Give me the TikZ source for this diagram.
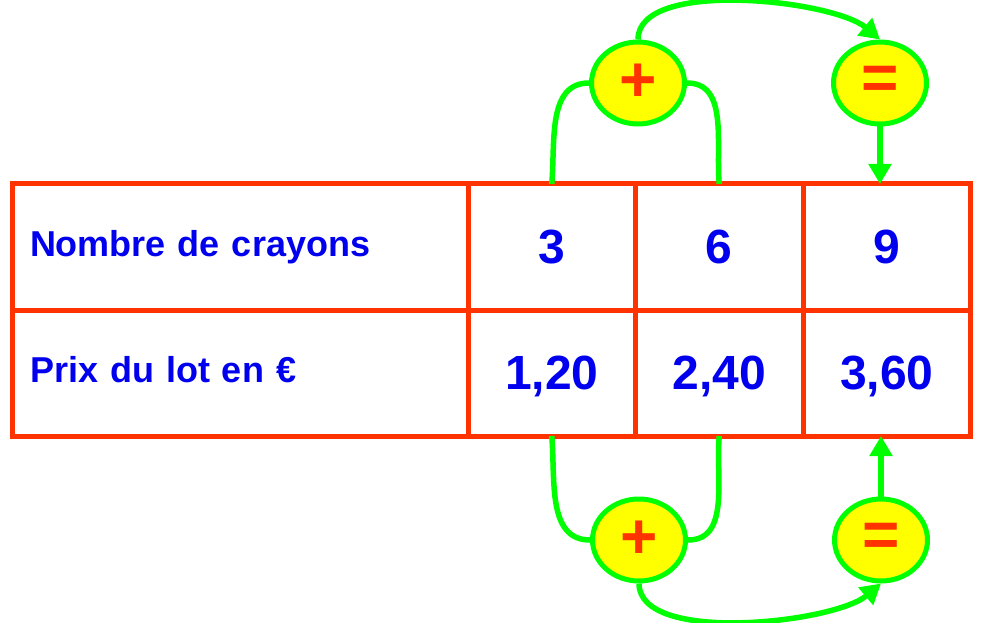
\documentclass[tikz,border=0pt]{standalone}
\usepackage{fontspec}
\setmainfont{Liberation Sans}
\usetikzlibrary{shapes,arrows.meta,positioning}
\definecolor{tabRed}{RGB}{255,51,0}
\definecolor{linkGreen}{RGB}{0,255,0}
\definecolor{opYellow}{RGB}{255,255,0}
\definecolor{txtBlue}{RGB}{0,0,238}
\tikzset{
  tabCell/.style = {rectangle, draw=tabRed, line width=5pt, outer sep=0pt,
    inner sep=0pt, minimum height=126pt, text=txtBlue},
  tabHead/.style = {tabCell, minimum width=456pt, text width=420pt, align=left,
    font=\fontsize{36}{40}\selectfont\bfseries, text height=26pt, text depth=7pt},
  tabNum/.style = {tabCell, minimum width=167.5pt,
    font=\fontsize{48}{52}\selectfont\bfseries, text depth=0pt},
  op_n/.style = {ellipse, draw=linkGreen, line width=5pt, fill=opYellow,
    text=tabRed, minimum width=93pt, minimum height=82pt, inner sep=0pt,
    font=\fontsize{64}{68}\selectfont\bfseries},
    % operation dans une bulle
  link/.style = {draw=linkGreen, line width=5.5pt},
  linkArrow/.style = {link, -{Triangle[length=20pt,width=22pt]}}
}

\begin{document}
\begin{tikzpicture}[x=1pt,y=1pt]
\useasboundingbox (0,0) rectangle (982,622);
% tableau
\node[tabHead] (hNb) at (240,375) {Nombre de crayons};
\node[tabNum, right=0pt of hNb] (n3) {3};
\node[tabNum, right=0pt of n3] (n6) {6};
\node[tabNum, right=0pt of n6] (n9) {9};
\node[tabHead, below=0pt of hNb] (hPx) {Prix du lot en €};
\node[tabNum, right=0pt of hPx] (p120) {1,20};
\node[tabNum, right=0pt of p120] (p240) {2,40};
\node[tabNum, right=0pt of p240] (p360) {3,60};
% bulles
\node[op_n] (plusH) at (638,539) {+};
\node[op_n, right=144pt of plusH] (egalH) {=};
\node[op_n] (plusB) at (639,82) {+};
\node[op_n, right=144pt of plusB] (egalB) {=};
% fleches
\draw[link] (n3.north) to[out=85,in=180] (plusH.west);
\draw[link] (n6.north) to[out=95,in=0] (plusH.east);
\draw[linkArrow] (plusH.north) to[out=90,in=140,looseness=0.65] (egalH.north);
\draw[linkArrow] (egalH.south) -- (egalH.south |- n9.north);
\draw[link] (p120.south) to[out=-85,in=180] (plusB.west);
\draw[link] (p240.south) to[out=-95,in=0] (plusB.east);
\draw[linkArrow] (plusB.south) to[out=-90,in=-140,looseness=0.65] (egalB.south);
\draw[linkArrow] (egalB.north) -- (egalB.north |- p360.south);
\end{tikzpicture}
\end{document}
